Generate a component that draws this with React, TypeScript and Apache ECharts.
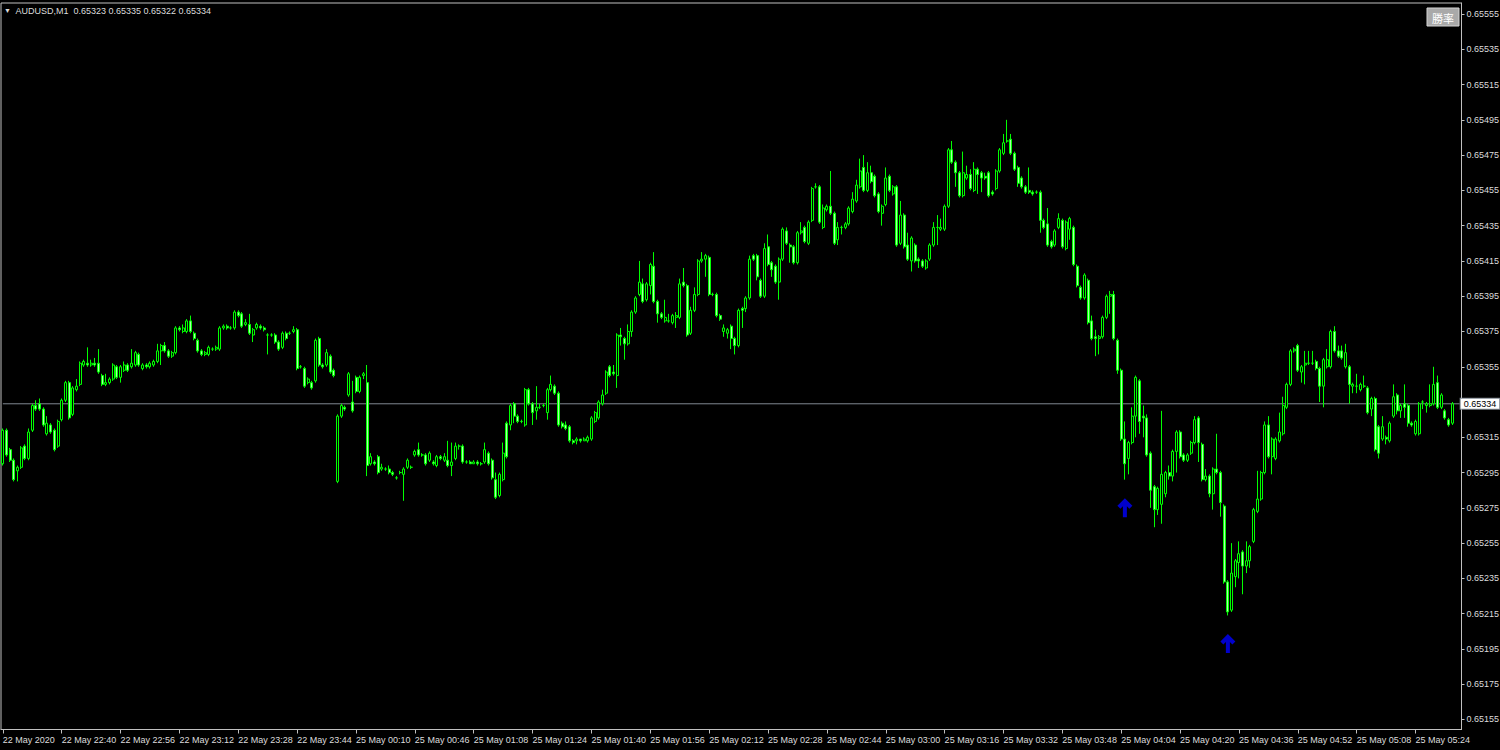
import React, { useEffect, useRef } from 'react';
import * as echarts from 'echarts';

// ---- data ----
const symbolName = 'AUDUSD';
const timeframe = 'M1';
const fridayDate = '22 May';
const mondayDate = '25 May';
const firstLabel = '22 May 2020';
const fridayStartMinute = 22 * 60 + 24; // 22:24, continuous minutes
const mondayGapMinutes = [2, 4, 5, 7, 9, 10, 12, 14, 16, 18, 20, 23, 25, 27, 30, 32, 35, 37, 40, 42, 44, 46, 47, 48, 50, 51, 53, 54, 55, 57, 58, 59, 61, 62, 64, 65, 67];
const mondayContinuousStart = 68; // 01:08

// [open, close, low, high] in 1e-5 units
const fridayBars: number[][] = [
  [65300,65319,65299,65320],[65319,65305,65304,65320],[65308,65302,65301,65309],[65302,65291,65290,65303],[65296,65298,65290,65299],[65298,65309,65297,65310],[65310,65303,65302,65311],[65303,65318,65302,65320],[65319,65333,65318,65334],[65333,65331,65330,65336],
  [65334,65331,65330,65337],[65331,65322,65321,65332],[65317,65323,65316,65327],[65322,65318,65317,65323],[65319,65308,65307,65320],[65310,65324,65309,65325],[65325,65336,65324,65337],[65336,65346,65335,65347],[65346,65326,65325,65347],[65328,65343,65327,65344],
  [65342,65344,65341,65348],[65345,65357,65344,65358],[65356,65358,65355,65359],[65357,65356,65355,65366],[65356,65357,65355,65359],[65357,65356,65355,65360],[65357,65352,65351,65365],[65350,65345,65344,65351],[65345,65346,65344,65351],[65346,65348,65345,65349],
  [65348,65356,65347,65357],[65355,65349,65348,65356],[65349,65355,65346,65356],[65353,65356,65352,65358],[65356,65353,65352,65357],[65355,65357,65354,65365],[65356,65363,65355,65364],[65362,65356,65355,65363],[65354,65356,65353,65357],[65356,65355,65354,65357],
  [65355,65357,65354,65358],[65356,65358,65355,65359],[65358,65364,65357,65368],[65364,65367,65356,65368],[65367,65364,65363,65369],[65364,65361,65360,65365],[65361,65363,65360,65364],[65363,65377,65362,65378],[65377,65376,65375,65378],[65375,65377,65374,65379],
  [65375,65381,65374,65382],[65381,65375,65374,65384],[65374,65371,65370,65375],[65370,65364,65363,65371],[65364,65362,65361,65365],[65362,65363,65361,65364],[65362,65366,65361,65367],[65365,65365,65364,65366],[65365,65366,65364,65367],[65365,65377,65364,65378],
  [65377,65378,65376,65379],[65378,65377,65376,65379],[65377,65377,65376,65378],[65377,65386,65376,65387],[65386,65384,65383,65387],[65385,65378,65377,65386],[65379,65380,65378,65382],[65379,65374,65373,65385],[65373,65376,65369,65377],[65377,65379,65376,65380],
  [65378,65377,65376,65379],[65377,65376,65375,65378],[65373,65373,65362,65374],[65373,65373,65372,65374],[65373,65369,65368,65374],[65369,65365,65364,65370],[65366,65374,65365,65375],[65374,65371,65370,65375],[65374,65374,65373,65375],[65375,65376,65374,65378],
  [65376,65354,65353,65377],[65355,65355,65354,65356],[65354,65344,65343,65355],[65346,65348,65345,65349],[65346,65343,65342,65347],[65347,65370,65346,65371],[65371,65356,65355,65372],[65356,65355,65354,65357],[65356,65363,65355,65365],[65361,65352,65351,65362],
  [65353,65350,65349,65354],
];

const mondayBars: number[][] = [
  [65290,65327,65289,65328],[65327,65333,65326,65334],[65332,65331,65330,65333],[65339,65351,65338,65352],[65335,65330,65329,65347],[65349,65341,65340,65350],[65341,65349,65340,65350],[65350,65351,65348,65352],[65346,65299,65293,65356],[65300,65304,65299,65306],
  [65301,65300,65299,65302],[65304,65295,65294,65305],[65297,65298,65296,65300],[65297,65297,65296,65298],[65297,65295,65294,65299],[65295,65294,65293,65296],[65292,65292,65291,65293],[65295,65295,65294,65296],[65294,65297,65279,65298],[65298,65302,65297,65303],
  [65298,65298,65297,65299],[65305,65307,65304,65308],[65308,65305,65304,65312],[65305,65305,65304,65306],[65305,65300,65299,65306],[65302,65306,65301,65307],[65301,65300,65299,65302],[65299,65304,65298,65305],[65304,65303,65302,65305],[65302,65304,65301,65306],
  [65302,65299,65298,65313],[65299,65301,65293,65312],[65303,65310,65302,65312],[65310,65310,65308,65311],[65310,65301,65300,65311],[65301,65301,65300,65302],[65301,65300,65300,65302],[65300,65301,65300,65302],[65301,65300,65299,65302],[65300,65300,65299,65301],
  [65301,65308,65300,65312],[65306,65300,65299,65307],[65302,65292,65291,65303],[65291,65281,65280,65295],[65282,65294,65281,65295],[65291,65306,65290,65312],[65323,65304,65303,65324],[65322,65333,65319,65334],[65334,65327,65323,65335],[65327,65324,65323,65328],
  [65324,65324,65323,65325],[65322,65342,65321,65343],[65342,65334,65333,65343],[65334,65329,65322,65335],[65330,65332,65325,65344],[65332,65332,65331,65334],[65333,65333,65332,65334],[65329,65342,65325,65343],[65342,65345,65341,65350],[65344,65340,65339,65345],
  [65340,65322,65321,65341],[65323,65321,65320,65324],[65322,65320,65319,65324],[65321,65313,65312,65322],[65313,65312,65311,65314],[65313,65314,65311,65315],[65314,65313,65312,65314],[65313,65314,65313,65315],[65313,65315,65312,65316],[65314,65326,65313,65327],
  [65324,65329,65323,65330],[65326,65335,65325,65336],[65334,65339,65333,65342],[65340,65352,65339,65353],[65355,65350,65349,65356],[65352,65351,65350,65356],[65350,65373,65343,65374],[65373,65372,65367,65377],[65371,65368,65359,65372],[65368,65375,65367,65379],
  [65375,65386,65372,65387],[65386,65394,65385,65395],[65396,65403,65395,65415],[65402,65392,65391,65405],[65393,65402,65392,65403],[65401,65413,65396,65414],[65412,65392,65391,65420],[65392,65385,65380,65393],[65385,65383,65382,65386],[65381,65383,65380,65393],
  [65381,65381,65380,65385],[65380,65384,65379,65385],[65383,65384,65377,65386],[65383,65402,65382,65405],[65403,65401,65400,65411],[65401,65373,65372,65402],[65374,65387,65373,65389],[65387,65396,65386,65400],[65396,65415,65395,65416],[65415,65416,65414,65420],
  [65416,65418,65406,65419],[65417,65396,65395,65418],[65396,65396,65395,65397],[65396,65384,65383,65397],[65384,65382,65381,65385],[65375,65377,65372,65379],[65374,65376,65371,65377],[65378,65371,65365,65379],[65371,65367,65362,65372],[65367,65387,65366,65388],
  [65388,65387,65377,65389],[65388,65394,65386,65395],[65394,65416,65393,65418],[65418,65416,65415,65419],[65418,65406,65404,65419],[65404,65395,65394,65405],[65395,65422,65394,65425],[65423,65413,65412,65430],[65414,65410,65406,65415],[65412,65403,65402,65413],
  [65403,65416,65393,65417],[65416,65433,65415,65434],[65432,65425,65424,65434],[65424,65423,65414,65425],[65423,65414,65413,65424],[65414,65431,65413,65432],[65431,65432,65430,65437],[65434,65426,65425,65435],[65425,65437,65424,65438],[65438,65456,65437,65457],
  [65457,65457,65456,65459],[65457,65437,65436,65458],[65434,65445,65433,65447],[65444,65446,65443,65447],[65446,65442,65441,65466],[65442,65425,65424,65443],[65427,65434,65424,65437],[65434,65434,65430,65435],[65434,65436,65433,65437],[65436,65445,65435,65446],
  [65443,65450,65442,65454],[65449,65458,65448,65461],[65457,65466,65456,65473],[65468,65455,65454,65475],[65455,65465,65454,65471],[65465,65460,65459,65469],[65463,65452,65451,65464],[65453,65443,65442,65454],[65442,65446,65435,65447],[65447,65462,65446,65468],
  [65463,65455,65454,65464],[65453,65457,65452,65458],[65457,65424,65423,65458],[65425,65441,65424,65449],[65441,65423,65422,65442],[65424,65416,65415,65431],[65415,65428,65409,65429],[65424,65415,65414,65425],[65416,65415,65411,65417],[65415,65412,65411,65416],
  [65411,65415,65410,65416],[65416,65424,65415,65425],[65424,65434,65423,65437],[65434,65434,65424,65441],[65433,65434,65432,65439],[65433,65446,65432,65447],[65446,65478,65445,65479],[65478,65471,65470,65483],[65471,65465,65457,65472],[65465,65452,65451,65466],
  [65452,65465,65451,65477],[65462,65464,65461,65469],[65464,65456,65455,65467],[65455,65467,65454,65471],[65467,65464,65453,65468],[65465,65462,65454,65466],[65463,65462,65461,65465],[65465,65452,65451,65466],[65454,65453,65452,65455],[65456,65466,65455,65467],
  [65466,65478,65465,65479],[65476,65482,65475,65487],[65483,65483,65482,65495],[65484,65476,65475,65487],[65476,65467,65466,65477],[65468,65459,65457,65469],[65462,65457,65456,65463],[65457,65454,65453,65458],[65455,65454,65453,65468],[65454,65453,65452,65455],
  [65454,65454,65453,65455],[65454,65438,65431,65455],[65438,65434,65433,65439],[65436,65424,65423,65445],[65426,65423,65422,65427],[65424,65432,65423,65433],[65434,65439,65433,65442],[65438,65423,65422,65439],[65422,65437,65421,65438],[65433,65439,65427,65440],
  [65434,65413,65412,65435],[65412,65401,65400,65413],[65400,65394,65393,65401],[65394,65407,65393,65408],[65404,65380,65379,65405],[65381,65371,65370,65384],[65372,65371,65361,65376],[65371,65372,65362,65373],[65372,65383,65371,65384],[65383,65395,65382,65396],
  [65395,65396,65385,65398],[65396,65371,65370,65398],[65370,65353,65351,65371],[65353,65314,65313,65354],[65314,65300,65291,65324],[65303,65312,65294,65313],[65312,65327,65311,65332],[65327,65349,65315,65350],[65347,65324,65317,65348],[65327,65326,65315,65333],
  [65326,65305,65304,65328],[65306,65285,65275,65307],[65287,65274,65264,65288],[65274,65286,65271,65287],[65277,65294,65266,65330],[65283,65295,65281,65296],[65295,65293,65291,65299],[65293,65307,65290,65308],[65307,65318,65295,65319],[65318,65304,65303,65319],
  [65305,65302,65301,65306],[65302,65305,65301,65306],[65306,65312,65305,65313],[65312,65325,65311,65327],[65326,65312,65301,65327],[65311,65291,65290,65312],[65291,65293,65290,65297],[65293,65283,65281,65294],[65283,65297,65274,65298],[65297,65295,65294,65317],
  [65295,65278,65270,65296],[65276,65233,65232,65277],[65233,65216,65214,65234],[65217,65238,65216,65255],[65236,65245,65230,65246],[65244,65249,65235,65256],[65250,65242,65226,65251],[65242,65245,65238,65256],[65245,65253,65241,65254],[65256,65274,65255,65275],
  [65273,65280,65272,65296],[65280,65295,65279,65296],[65295,65322,65294,65324],[65322,65304,65303,65327],[65304,65314,65294,65315],[65303,65314,65302,65315],[65313,65318,65312,65329],[65317,65333,65316,65338],[65332,65345,65331,65346],[65345,65364,65344,65365],
  [65364,65365,65363,65366],[65367,65353,65352,65368],[65352,65355,65346,65356],[65356,65357,65345,65364],[65357,65357,65356,65364],[65357,65357,65356,65364],[65358,65354,65353,65359],[65354,65344,65335,65355],[65344,65359,65332,65360],[65355,65359,65354,65365],
  [65355,65375,65354,65376],[65375,65364,65363,65378],[65364,65361,65360,65367],[65364,65360,65359,65367],[65355,65363,65354,65368],[65355,65345,65334,65356],[65344,65345,65340,65346],[65344,65344,65340,65351],[65342,65345,65341,65346],[65344,65344,65343,65350],
  [65343,65329,65328,65344],[65331,65337,65327,65338],[65337,65308,65307,65338],[65321,65306,65303,65322],[65314,65321,65313,65327],[65315,65314,65311,65316],[65313,65323,65312,65324],[65327,65338,65326,65345],[65339,65330,65328,65340],[65330,65333,65326,65334],
  [65334,65332,65326,65345],[65333,65323,65321,65334],[65323,65322,65321,65324],[65317,65324,65316,65325],[65317,65334,65316,65335],[65335,65335,65331,65336],[65333,65334,65329,65335],[65333,65334,65332,65345],[65334,65345,65333,65355],[65346,65332,65331,65350],
  [65332,65339,65331,65340],[65330,65326,65325,65331],[65325,65322,65321,65326],[65323,65334,65322,65335],
];

const arrowBars = [305, 333];
const yTicks = [0.65155, 0.65175, 0.65195, 0.65215, 0.65235, 0.65255, 0.65275, 0.65295, 0.65315, 0.65335, 0.65355, 0.65375, 0.65395, 0.65415, 0.65435, 0.65455, 0.65475, 0.65495, 0.65515, 0.65535, 0.65555];

// ---- build ----
const bars = [...fridayBars, ...mondayBars];
const toPrice = (v: number) => v / 1e5;
const candleData = bars.map(([o, c, l, h]) => [toPrice(o), toPrice(c), toPrice(Math.min(l, o, c)), toPrice(Math.max(h, o, c))]);

const pad2 = (n: number) => String(n).padStart(2, '0');
const hhmm = (m: number) => `${pad2(Math.floor(m / 60) % 24)}:${pad2(m % 60)}`;
const categories: string[] = [];
fridayBars.forEach((_, k) => categories.push(`${fridayDate} ${hhmm(fridayStartMinute + k)}`));
mondayGapMinutes.forEach((m) => categories.push(`${mondayDate} ${hhmm(m)}`));
const contCount = mondayBars.length - mondayGapMinutes.length;
for (let k = 0; k < contCount; k++) categories.push(`${mondayDate} ${hhmm(mondayContinuousStart + k)}`);
categories.push('', ''); // right margin of the chart

const lastIndex = candleData.length - 1;
const last = candleData[lastIndex];
const lastClose = last[1];
const fmt = (v: number) => v.toFixed(5);
const yTickValues = yTicks.filter((v) => Math.abs(v - lastClose) > 0.00004);

const FONT = '"Liberation Sans", Arial, sans-serif';
const LABEL = '#dcdcdc';
const FRAME = '#c0c0c0';
const BIDLINE = '#7f8790';
const showIdx = (i: number, v: string) => i % 16 === 0 && v !== '';

export default function App() {
  const ref = useRef<HTMLDivElement>(null);
  useEffect(() => {
    if (!ref.current) return;
    const chart = echarts.init(ref.current, undefined, { renderer: 'svg' });
    const option: any = {
      animation: false,
      backgroundColor: '#000000',
      title: {
        text: `{tri|▼}  ${symbolName},${timeframe}  ${fmt(last[0])} ${fmt(last[3])} ${fmt(last[2])} ${fmt(last[1])}`,
        left: 4,
        top: 6,
        padding: 0,
        textStyle: {
          color: LABEL, fontSize: 9, fontWeight: 'normal', fontFamily: FONT,
          rich: { tri: { fontSize: 7, color: LABEL } },
        },
      },
      grid: {
        left: 1, top: 3, width: 1460.5, height: 726.5,
        show: true, backgroundColor: '#000000', borderColor: FRAME, borderWidth: 1,
        containLabel: false, outerBoundsMode: 'none',
      },
      xAxis: {
        type: 'category',
        data: categories,
        boundaryGap: true,
        axisLine: { show: true, lineStyle: { color: FRAME } },
        axisTick: { show: true, interval: showIdx, alignWithLabel: true, length: 4, lineStyle: { color: FRAME } },
        axisLabel: {
          show: true, interval: showIdx, align: 'left', margin: 6, color: LABEL, fontSize: 9, fontFamily: FONT,
          formatter: (v: string, i: number) => (i === 0 ? firstLabel : v),
        },
        splitLine: { show: false },
      },
      yAxis: {
        type: 'value',
        position: 'right',
        min: 0.6514933,
        max: 0.6556124,
        axisLine: { show: true, lineStyle: { color: FRAME } },
        axisTick: { show: true, customValues: yTickValues, length: 3, lineStyle: { color: FRAME } },
        axisLabel: {
          show: true, customValues: yTickValues, margin: 5, color: LABEL, fontSize: 9, fontFamily: FONT,
          formatter: (v: number) => v.toFixed(5),
        },
        splitLine: { show: false },
      },
      graphic: [
        {
          type: 'group',
          children: [
            { type: 'rect', shape: { x: 1427, y: 8, width: 32, height: 18 }, style: { fill: '#a9a9a9', stroke: '#d4d4d4', lineWidth: 1 } },
            { type: 'text', x: 1443, y: 17.5, style: { text: '勝率', fill: '#ffffff', fontSize: 11, fontFamily: '"Noto Sans CJK JP", "Noto Sans CJK SC", sans-serif', align: 'center', verticalAlign: 'middle' } },
          ],
        },
      ],
      series: [
        {
          type: 'candlestick',
          data: candleData,
          barWidth: 2.5,
          itemStyle: { color: '#000000', color0: '#aaffaa', borderColor: '#00ff00', borderColor0: '#00ff00', borderWidth: 1 },
          z: 3,
        },
        {
          // bid price line across the chart
          type: 'line',
          data: [[0, lastClose], [categories.length - 1, lastClose]],
          symbol: 'none',
          silent: true,
          lineStyle: { color: BIDLINE, width: 1, type: 'solid' },
          z: 2,
          endLabel: {
            show: true,
            formatter: () => fmt(lastClose),
            distance: 1,
            backgroundColor: '#ffffff', color: '#000000', fontSize: 9, fontFamily: FONT,
            padding: [1, 3, 0, 3], borderColor: BIDLINE, borderWidth: 1,
          },
        },
        {
          type: 'scatter',
          data: arrowBars.map((i) => [i, candleData[i][2]]),
          symbol: 'path://M7.5,0 L15,7.5 L12,10.5 L9.5,8 L9.5,19 L5.5,19 L5.5,8 L3,10.5 L0,7.5 Z',
          symbolSize: [15, 19],
          symbolOffset: [0, 28],
          itemStyle: { color: '#0000ff' },
          silent: true,
          z: 5,
        },
      ],
    };
    chart.setOption(option);
    return () => chart.dispose();
  }, []);
  return <div ref={ref} style={{ position: 'fixed', left: 0, top: 0, width: 1500, height: 750, background: '#000' }} />;
}
